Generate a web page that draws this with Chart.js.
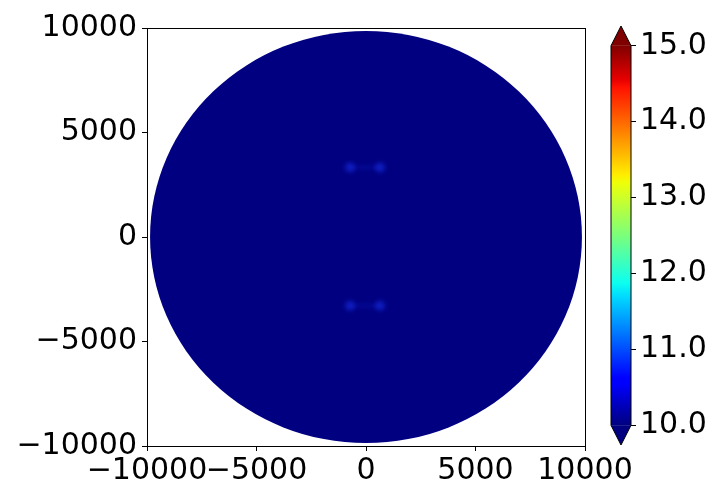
<!DOCTYPE html>
<html>
<head>
<meta charset="utf-8">
<script src="https://cdn.jsdelivr.net/npm/chart.js@4"></script>
<style>
  body { margin: 0; background: #fff; }
  #wrap { position: relative; width: 720px; height: 500px; }
  #main { position: absolute; left: 0; top: 0; }
  #cbar { position: absolute; left: 600px; top: 0; }
</style>
</head>
<body>
<div id="wrap">
  <canvas id="main" width="720" height="500"></canvas>
  <canvas id="cbar" width="120" height="500"></canvas>
</div>
<script>
// axis ticks
const xTicks = [-10000, -5000, 0, 5000, 10000];
const yTicks = [-10000, -5000, 0, 5000, 10000];
const colorTicks = [10, 11, 12, 13, 14, 15];

// the field: disk of value ~10 with two faint ridges
const diskCenter = [0, 0];
const diskRadius = 9860;
const blobX = [-730, 640];
const upperY = 3330;
const lowerY = -3290;

// colour range of the bar
const colorMin = 10;
const colorMax = 15;
const extendBy = 0.26;

const jet = [
    [0, '#000080'], [0.11, '#0000ff'], [0.125, '#0000ff'], [0.34, '#00dbff'],
    [0.375, '#0cfff0'], [0.5, '#7bff7b'], [0.64, '#efff08'], [0.66, '#ffed00'],
    [0.89, '#ff1200'], [0.91, '#e80000'], [1, '#800000']
];

const font = { family: 'DejaVu Sans', size: 30 };
const fmt = v => (v < 0 ? '\u2212' + Math.abs(v) : '' + v);

const diskPlugin = {
    id: 'disk',
    beforeDatasetsDraw(chart) {
        const { ctx, scales: { x, y } } = chart;
        const cx = x.getPixelForValue(diskCenter[0]);
        const cy = y.getPixelForValue(diskCenter[1]);
        const rx = x.getPixelForValue(diskCenter[0] + diskRadius) - cx;
        const ry = cy - y.getPixelForValue(diskCenter[1] + diskRadius);
        ctx.save();
        ctx.fillStyle = '#000080';
        ctx.beginPath();
        ctx.ellipse(cx, cy, rx, ry, 0, 0, Math.PI * 2);
        ctx.fill();
        ctx.restore();
    },
    // soften the ridges
    beforeDatasetDraw(chart) {
        chart.ctx.save();
        chart.ctx.filter = 'blur(2px)';
    },
    afterDatasetDraw(chart) {
        chart.ctx.restore();
    },
    afterDraw(chart) {
        const { ctx, chartArea: a } = chart;
        ctx.save();
        ctx.strokeStyle = '#000';
        ctx.lineWidth = 1;
        ctx.strokeRect(Math.round(a.left) + 0.5, Math.round(a.top) + 0.5,
            Math.round(a.right - a.left), Math.round(a.bottom - a.top));
        ctx.restore();
    }
};

const ridge = yv => ({
    data: blobX.map(v => ({ x: v, y: yv })),
    showLine: true,
    borderColor: 'rgba(20,40,220,0.3)',
    borderWidth: 3,
    pointRadius: 5,
    pointBackgroundColor: 'rgba(25,50,235,0.55)',
    pointBorderWidth: 0
});

new Chart(document.getElementById('main'), {
    type: 'scatter',
    data: { datasets: [ridge(upperY), ridge(lowerY)] },
    options: {
        responsive: false,
        animation: false,
        layout: { padding: { top: 28, right: 135, left: 0, bottom: 0 } },
        plugins: { legend: { display: false }, tooltip: { enabled: false } },
        scales: {
            x: {
                type: 'linear',
                min: -10000, max: 10000,
                afterBuildTicks: s => { s.ticks = xTicks.map(v => ({ value: v })); },
                afterFit: s => { s.height = 54; },
                grid: { drawOnChartArea: false, tickLength: 5, color: '#000' },
                border: { display: false },
                ticks: { font, color: '#000', padding: 2, maxRotation: 0, autoSkip: false, callback: fmt }
            },
            y: {
                type: 'linear',
                min: -10000, max: 10000,
                afterBuildTicks: s => { s.ticks = yTicks.map(v => ({ value: v })); },
                afterFit: s => { s.width = 147; },
                grid: { drawOnChartArea: false, tickLength: 5, color: '#000' },
                border: { display: false },
                ticks: { font, color: '#000', padding: 5, autoSkip: false, callback: fmt }
            }
        }
    },
    plugins: [diskPlugin]
});

const barPlugin = {
    id: 'extend',
    afterDatasetsDraw(chart) {
        const { ctx, chartArea: a, scales: { y } } = chart;
        const l = a.left, r = a.right, m = (l + r) / 2;
        const top = y.getPixelForValue(colorMax + extendBy);
        const hi = y.getPixelForValue(colorMax);
        const lo = y.getPixelForValue(colorMin);
        const bot = y.getPixelForValue(colorMin - extendBy);
        ctx.save();
        ctx.fillStyle = jet[jet.length - 1][1];
        ctx.beginPath();
        ctx.moveTo(l, hi); ctx.lineTo(m, top); ctx.lineTo(r, hi); ctx.closePath();
        ctx.fill();
        ctx.fillStyle = jet[0][1];
        ctx.beginPath();
        ctx.moveTo(l, lo); ctx.lineTo(m, bot); ctx.lineTo(r, lo); ctx.closePath();
        ctx.fill();
        ctx.strokeStyle = '#000';
        ctx.lineWidth = 1;
        ctx.beginPath();
        ctx.moveTo(l, hi); ctx.lineTo(m, top); ctx.lineTo(r, hi);
        ctx.lineTo(r, lo); ctx.lineTo(m, bot); ctx.lineTo(l, lo); ctx.closePath();
        ctx.stroke();
        ctx.restore();
    }
};

new Chart(document.getElementById('cbar'), {
    type: 'bar',
    data: {
        labels: [''],
        datasets: [{
            data: [[colorMin, colorMax]],
            barPercentage: 1,
            categoryPercentage: 1,
            borderWidth: 0,
            backgroundColor: c => {
                const y = c.chart.scales.y;
                const p0 = y ? y.getPixelForValue(colorMin) : NaN;
                const p1 = y ? y.getPixelForValue(colorMax) : NaN;
                if (!isFinite(p0) || !isFinite(p1)) return jet[0][1];
                const g = c.chart.ctx.createLinearGradient(0, p0, 0, p1);
                jet.forEach(([p, col]) => g.addColorStop(p, col));
                return g;
            }
        }]
    },
    options: {
        responsive: false,
        animation: false,
        layout: { padding: { top: 26, left: 11, right: 0, bottom: 55 } },
        plugins: { legend: { display: false }, tooltip: { enabled: false } },
        scales: {
            x: { display: false },
            y: {
                position: 'right',
                min: colorMin - extendBy, max: colorMax + extendBy,
                afterBuildTicks: s => { s.ticks = colorTicks.map(v => ({ value: v })); },
                afterFit: s => { s.width = 89; },
                grid: { drawOnChartArea: false, tickLength: 5, color: '#000' },
                border: { display: false },
                ticks: { font, color: '#000', padding: 4, autoSkip: false, callback: v => v.toFixed(1) }
            }
        }
    },
    plugins: [barPlugin]
});
</script>
</body>
</html>
